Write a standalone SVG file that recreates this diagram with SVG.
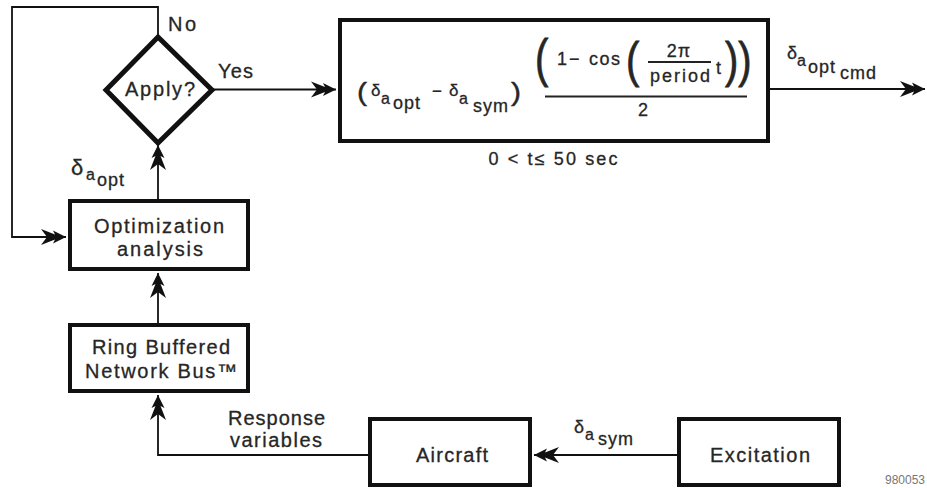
<svg xmlns="http://www.w3.org/2000/svg" width="927" height="488" viewBox="0 0 927 488">
<style>
.t{font-family:"Liberation Sans",Arial,Helvetica,sans-serif;fill:#262626;font-size:20px;stroke:#262626;stroke-width:0.3}
.m{font-family:"Liberation Sans",Arial,Helvetica,sans-serif;fill:#262626;stroke:#262626;stroke-width:0.3}
.s{font-family:"Liberation Sans",Arial,Helvetica,sans-serif;fill:#262626;stroke:#262626;stroke-width:0.3;font-size:18px;letter-spacing:1px}
.box{fill:#fff;stroke:#111;stroke-width:4}
.dia{fill:#fff;stroke:#111;stroke-width:5;stroke-linejoin:miter}
.c{fill:none;stroke:#111;stroke-width:1.8}
.rule{stroke:#222;stroke-width:1.8}
</style>
<defs>
<marker id="ah" markerUnits="userSpaceOnUse" viewBox="-26 -9 28 18" refX="0" refY="0" markerWidth="28" markerHeight="18" orient="auto">
<path d="M0,0 L-13,-6.5 L-11,-2.5 L-25,-8 L-19,0 L-25,8 L-11,2.5 L-13,6.5 Z" fill="#111"/>
</marker>
</defs>
<rect width="927" height="488" fill="#fff"/>

<g id="connectors">
<path class="c" d="M158,37 V7 H12 V237 H66" marker-end="url(#ah)"/>
<path class="c" d="M212,89.5 H336" marker-end="url(#ah)"/>
<path class="c" d="M770,89 H925" marker-end="url(#ah)"/>
<path class="c" d="M158,199 V145" marker-end="url(#ah)"/>
<path class="c" d="M158,323 V273" marker-end="url(#ah)"/>
<path class="c" d="M368,455 H158 V395" marker-end="url(#ah)"/>
<path class="c" d="M677,455 H534" marker-end="url(#ah)"/>
<text class="t" x="168" y="31" textLength="28" lengthAdjust="spacing">No</text>
<text class="t" x="218" y="78" font-size="19" textLength="35" lengthAdjust="spacing">Yes</text>
<g id="lbl-dopt">
<text class="m" x="71" y="175" font-size="22">δ</text>
<text class="m" x="86" y="180" font-size="16">a</text>
<text class="s" x="97" y="186">opt</text>
</g>
<g id="lbl-dcmd">
<text class="m" x="787" y="59" font-size="18">δ</text>
<text class="m" x="797" y="66" font-size="16">a</text>
<text class="s" x="808" y="73">opt</text>
<text class="s" x="840" y="79">cmd</text>
</g>
<g id="lbl-dsym">
<text class="m" x="574" y="433" font-size="18">δ</text>
<text class="m" x="585" y="440" font-size="16">a</text>
<text class="s" x="598" y="445">sym</text>
</g>
<text class="t" x="228" y="425" textLength="97" lengthAdjust="spacing">Response</text>
<text class="t" x="230" y="447" textLength="92" lengthAdjust="spacing">variables</text>
</g>

<g id="apply">
<polygon class="dia" points="158,37 212,90 158,143 106,90"/>
<text class="t" x="125" y="96" font-size="19" textLength="70" lengthAdjust="spacing">Apply?</text>
</g>

<g id="formula">
<rect class="box" x="340" y="20" width="428" height="121"/>
<text class="m" font-size="20" transform="translate(357,101) scale(1.5,1.3)">(</text>
<text class="m" x="371" y="96" font-size="17">δ</text>
<text class="m" x="381" y="104" font-size="16">a</text>
<text class="s" x="393" y="109">opt</text>
<text class="m" x="432" y="97" font-size="17">−</text>
<text class="m" x="449" y="96" font-size="17">δ</text>
<text class="m" x="459" y="104" font-size="16">a</text>
<text class="s" x="473" y="112">sym</text>
<text class="m" font-size="20" transform="translate(511,101) scale(1.5,1.3)">)</text>
<text class="m" font-size="20" transform="translate(535,76) scale(2,2.6)">(</text>
<text class="m" x="557" y="65" font-size="18">1</text>
<text class="m" x="569" y="65" font-size="18">−</text>
<text class="m" x="589" y="65" font-size="18" letter-spacing="1.5">cos</text>
<text class="m" font-size="20" transform="translate(626,76.5) scale(2,2.5)">(</text>
<text class="m" x="679" y="57" font-size="18" text-anchor="middle" letter-spacing="1">2π</text>
<line class="rule" x1="648" y1="62" x2="711" y2="62" stroke-width="1.5"/>
<text class="m" x="680" y="82" font-size="18" text-anchor="middle" textLength="60" lengthAdjust="spacing">period</text>
<text class="m" x="716" y="74" font-size="18">t</text>
<text class="m" font-size="20" transform="translate(725,76.5) scale(2,2.5)">))</text>
<line class="rule" x1="545" y1="96.5" x2="747" y2="96.5"/>
<text class="m" x="643" y="116" font-size="18" text-anchor="middle">2</text>
</g>
<text class="m" x="553" y="165" font-size="18" text-anchor="middle" textLength="129" lengthAdjust="spacing">0 &lt; t≤ 50 sec</text>

<g id="opt">
<rect class="box" x="70" y="201" width="178" height="68"/>
<text class="t" x="159" y="233" text-anchor="middle" textLength="130" lengthAdjust="spacing">Optimization</text>
<text class="t" x="160" y="256" text-anchor="middle" textLength="86" lengthAdjust="spacing">analysis</text>
</g>

<g id="ring">
<rect class="box" x="70" y="325" width="178" height="66"/>
<text class="t" x="161" y="354" text-anchor="middle" textLength="138" lengthAdjust="spacing">Ring Buffered</text>
<text class="t" x="161" y="378" text-anchor="middle" textLength="152" lengthAdjust="spacing">Network Bus™</text>
</g>

<g id="aircraft">
<rect class="box" x="370" y="419" width="160" height="66"/>
<text class="t" x="452" y="462" text-anchor="middle" textLength="72" lengthAdjust="spacing">Aircraft</text>
</g>

<g id="excitation">
<rect class="box" x="679" y="419" width="160" height="66"/>
<text class="t" x="760" y="462" text-anchor="middle" textLength="100" lengthAdjust="spacing">Excitation</text>
</g>

<text x="925" y="484" font-family="Liberation Sans,Arial,sans-serif" font-size="12" text-anchor="end" fill="#777">980053</text>
</svg>
